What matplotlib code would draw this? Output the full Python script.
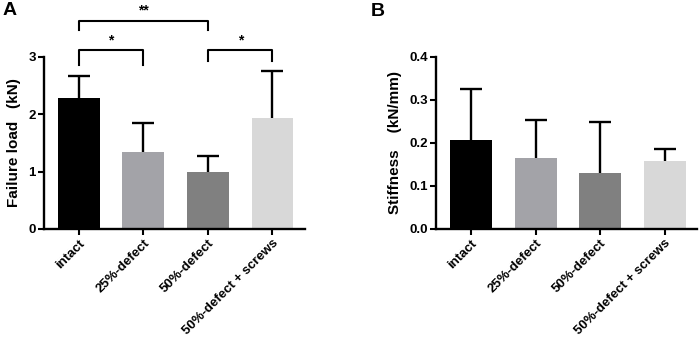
import numpy as np
import matplotlib.pyplot as plt

plt.rcParams["font.family"] = ["Liberation Sans", "DejaVu Sans"]
plt.rcParams["font.weight"] = "bold"

categories = ["intact", "25%-defect", "50%-defect", "50%-defect + screws"]
bar_colors = ["#000000", "#a3a3a8", "#808080", "#d8d8d8"]

failure_mean = [2.29, 1.35, 0.99, 1.94]
failure_sd = [0.37, 0.50, 0.29, 0.82]

stiffness_mean = [0.208, 0.164, 0.130, 0.158]
stiffness_sd = [0.118, 0.090, 0.118, 0.029]

# significance brackets: (left bar, right bar, bar height, left tick end, right tick end, label)
failure_sig = [
    (0, 1, 3.12, 2.86, 2.86, "*"),
    (2, 3, 3.12, 2.93, 2.93, "*"),
    (0, 2, 3.63, 3.47, 3.47, "**"),
]


def draw_panel(ax, means, sds, ylim, yticks, ytick_fmt, ylabel):
    x = np.arange(len(categories))
    ax.bar(x, means, width=0.65, color=bar_colors, zorder=2)
    # symmetric bars drawn behind the columns so only the upper half shows
    ax.errorbar(x, means, yerr=sds, fmt="none", ecolor="black",
                elinewidth=1.7, capsize=8, capthick=1.7, zorder=1)
    ax.set_xlim(-0.54, 3.5)
    ax.set_ylim(*ylim)
    ax.set_yticks(yticks)
    ax.set_yticklabels([ytick_fmt.format(t) for t in yticks], fontsize=9.5, fontweight="bold")
    ax.set_xticks(x)
    ax.set_xticklabels(categories, rotation=45, ha="right", rotation_mode="anchor",
                       fontsize=9.5, fontweight="bold")
    ax.set_ylabel(ylabel, fontsize=11, fontweight="bold", labelpad=5)
    for s in ["top", "right"]:
        ax.spines[s].set_visible(False)
    for s in ["left", "bottom"]:
        ax.spines[s].set_linewidth(1.7)
    ax.tick_params(width=1.5, length=4, direction="out", pad=2)


fig = plt.figure(figsize=(6.99, 3.37), dpi=100)
axA = fig.add_axes([0.063, 0.3205, 0.373, 0.5105])
axB = fig.add_axes([0.624, 0.3205, 0.373, 0.5105])

draw_panel(axA, failure_mean, failure_sd, (0, 3), [0, 1, 2, 3], "{:g}",
           "Failure load   (kN)")
draw_panel(axB, stiffness_mean, stiffness_sd, (0, 0.4), [0, 0.1, 0.2, 0.3, 0.4], "{:.1f}",
           "Stiffness    (kN/mm)")

for i, j, y, yl, yr, lab in failure_sig:
    axA.plot([i, i, j, j], [yl, y, y, yr], color="black", lw=1.5, clip_on=False)
    axA.text((i + j) / 2, y + 0.05, lab, ha="center", va="bottom", fontsize=10,
             fontweight="bold", clip_on=False)

fig.text(0.004, 0.995, "A", fontsize=14, fontweight="bold", va="top")
fig.text(0.531, 0.99, "B", fontsize=14, fontweight="bold", va="top")

fig.savefig("out.png", dpi=100)
